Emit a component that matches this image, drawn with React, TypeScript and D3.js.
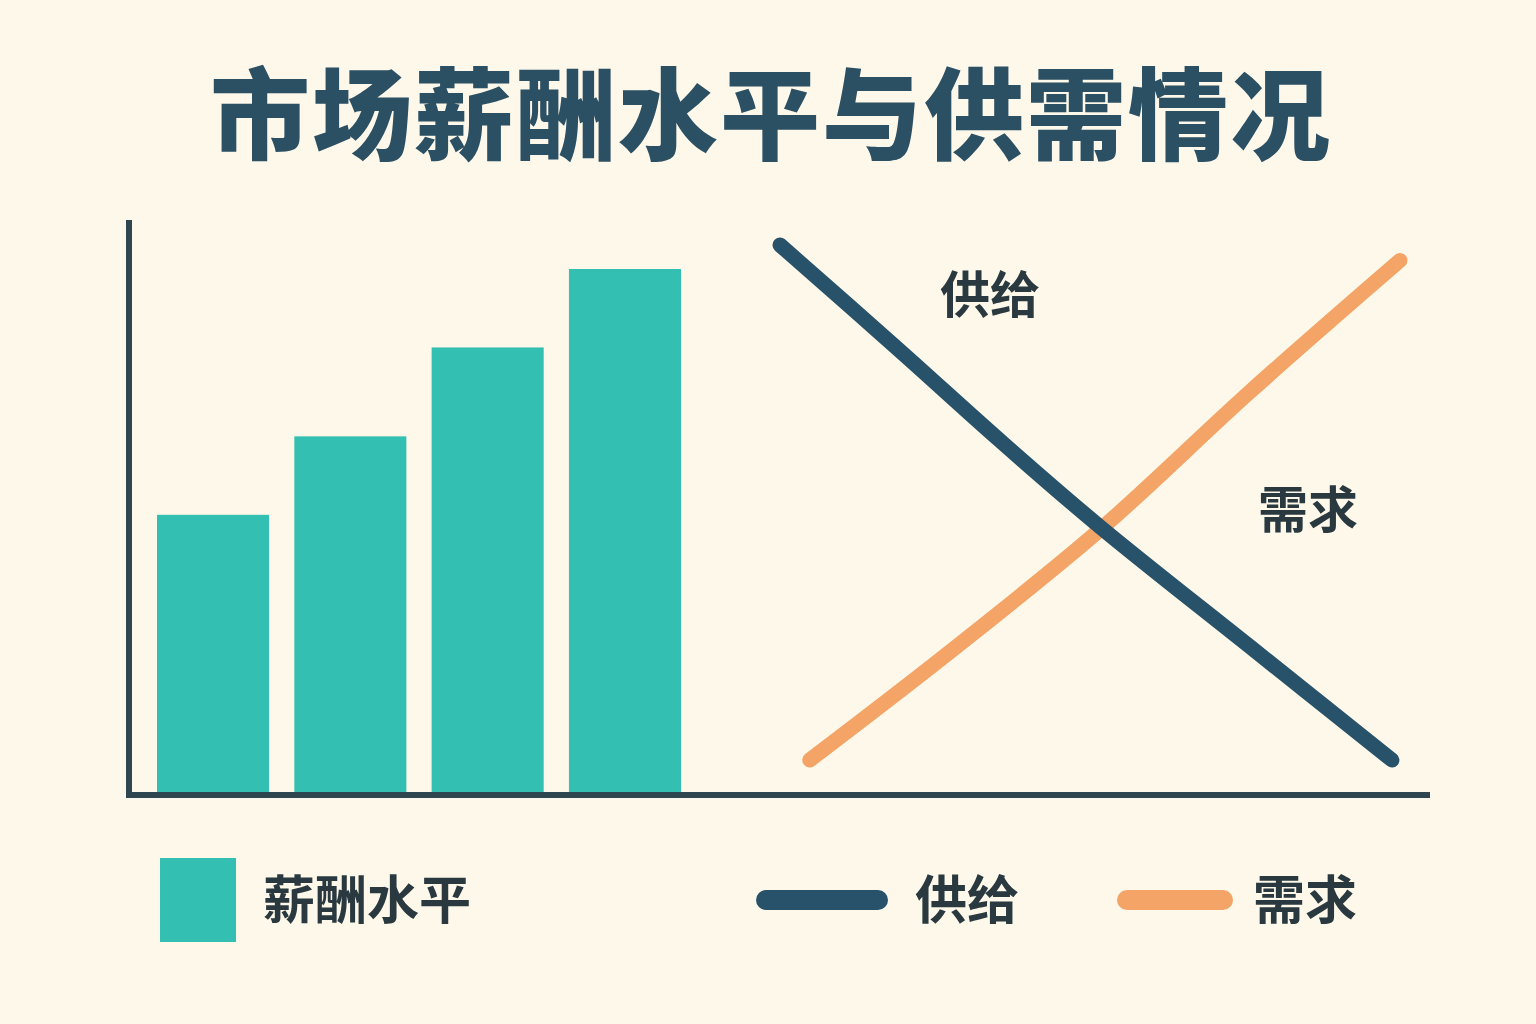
import React from "react";
import * as d3 from "d3";

const title = "市场薪酬水平与供需情况";
const barCategories = ["A", "B", "C", "D"];
const barValues = [5300, 6800, 8500, 10000];
const supplyPoints: [number, number][] = [
  [0, 100], [19.4, 79.4], [35.5, 62], [51.6, 45.3], [75.8, 22], [98.7, 0],
];
const demandPoints: [number, number][] = [
  [4.8, 0], [27.4, 21], [51.6, 44.7], [75.8, 71.5], [100, 97],
];
const legendLabels = ["薪酬水平", "供给", "需求"];
const lineLabels = ["供给", "需求"];

const W = 1536, H = 1024;
const BG = "#FDF8E9";
const TEAL = "#33BFB1";
const NAVY = "#27526A";
const ORANGE = "#F3A466";
const TEXT = "#29393F";
const TITLE = "#2B4F63";
const FONT = "'Noto Sans CJK SC', 'Noto Sans', sans-serif";

export default function App() {
  const xBand = d3.scaleBand<string>().domain(barCategories).range([157, 681]).paddingInner(0.184).paddingOuter(0);
  const yBar = d3.scaleLinear().domain([0, 10000]).range([792, 269]);
  const xl = d3.scaleLinear().domain([0, 100]).range([780, 1400]);
  const yl = d3.scaleLinear().domain([0, 100]).range([760, 245]);
  const line = d3.line<[number, number]>().x(d => xl(d[0])).y(d => yl(d[1])).curve(d3.curveCatmullRom.alpha(0.5));

  return (
    <svg width={W} height={H} style={{ position: "absolute", left: 0, top: 0, display: "block" }}>
      <rect x={0} y={0} width={W} height={H} fill={BG} />
      <text x={771} y={152} textAnchor="middle" fontFamily={FONT} fontWeight={900} fontSize={100} letterSpacing={2} fill={TITLE}>{title}</text>
      {barCategories.map((c, i) => (
        <rect key={c} x={xBand(c)} y={yBar(barValues[i])} width={xBand.bandwidth()} height={yBar(0) - yBar(barValues[i])} fill={TEAL} />
      ))}
      <line x1={129} y1={220} x2={129} y2={798} stroke="#2F4650" strokeWidth={6} />
      <line x1={126} y1={795} x2={1430} y2={795} stroke="#2F4650" strokeWidth={6} />
      <path d={line(demandPoints) || ""} fill="none" stroke={ORANGE} strokeWidth={15} strokeLinecap="round" />
      <path d={line(supplyPoints) || ""} fill="none" stroke={NAVY} strokeWidth={15} strokeLinecap="round" />
      <text x={990} y={313} textAnchor="middle" fontFamily={FONT} fontWeight={700} fontSize={50} fill={TEXT}>{lineLabels[0]}</text>
      <text x={1308} y={528} textAnchor="middle" fontFamily={FONT} fontWeight={700} fontSize={50} fill={TEXT}>{lineLabels[1]}</text>
      <rect x={160} y={858} width={76} height={84} fill={TEAL} />
      <text x={263} y={919} fontFamily={FONT} fontWeight={700} fontSize={52} fill={TEXT}>{legendLabels[0]}</text>
      <line x1={766} y1={900} x2={878} y2={900} stroke={NAVY} strokeWidth={20} strokeLinecap="round" />
      <text x={915} y={919} fontFamily={FONT} fontWeight={700} fontSize={52} fill={TEXT}>{legendLabels[1]}</text>
      <line x1={1127} y1={900} x2={1223} y2={900} stroke={ORANGE} strokeWidth={20} strokeLinecap="round" />
      <text x={1253} y={919} fontFamily={FONT} fontWeight={700} fontSize={52} fill={TEXT}>{legendLabels[2]}</text>
    </svg>
  );
}
